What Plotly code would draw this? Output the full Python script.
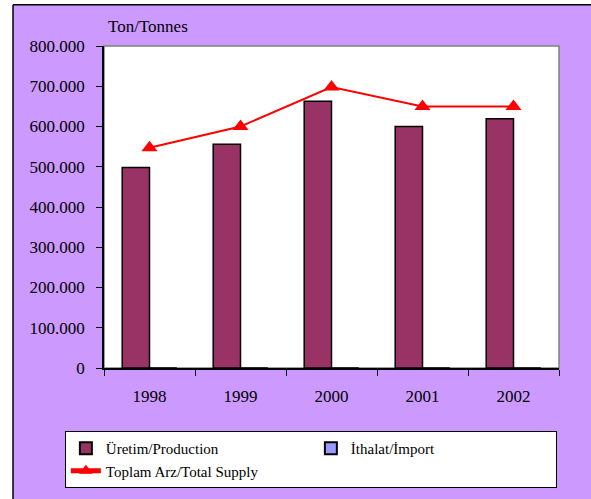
import plotly.graph_objects as go

years = ["1998", "1999", "2000", "2001", "2002"]
production = [498000, 556000, 663000, 600000, 619000]
imports = [0, 0, 0, 0, 0]
total_supply = [547000, 600000, 698000, 650000, 650000]

purple = "#CC99FF"
font = '"Liberation Serif", "Times New Roman", serif'

fig = go.Figure()

fig.add_trace(go.Bar(
    x=years, y=production, name="Üretim/Production",
    marker=dict(color="#993366", line=dict(color="black", width=1.5)),
))
fig.add_trace(go.Bar(
    x=years, y=imports, name="İthalat/İmport",
    marker=dict(color="#9999FF", line=dict(color="black", width=1.5)),
))
fig.add_trace(go.Scatter(
    x=years, y=total_supply, name="Toplam Arz/Total Supply",
    mode="lines+markers",
    line=dict(color="#FF0000", width=2),
    marker=dict(symbol="triangle-up", size=14, color="#FF0000"),
))

# plot area: x 104..559, y 46..369 px
fig.update_layout(
    width=591, height=499,
    margin=dict(l=104, r=32, t=46, b=130),
    paper_bgcolor=purple,
    plot_bgcolor="white",
    font=dict(family=font, size=17, color="black"),
    separators=",.",
    barmode="group",
    bargap=0.4,
    bargroupgap=0,
    showlegend=True,
    legend=dict(
        orientation="h",
        x=-0.086, y=-0.192, xanchor="left", yanchor="top",
        bgcolor="white", bordercolor="black", borderwidth=1,
        font=dict(family=font, size=15),
        entrywidth=200, tracegroupgap=0, itemsizing="constant",
    ),
    shapes=[
        # white strips outside the purple frame, plus the frame's edge lines
        dict(type="rect", xref="paper", yref="paper", layer="below",
             x0=-0.3, x1=-0.2, y0=-0.5, y1=1.2,
             fillcolor="white", line=dict(width=0)),
        dict(type="rect", xref="paper", yref="paper", layer="below",
             x0=-0.3, x1=1.2, y0=1.128, y1=1.2,
             fillcolor="white", line=dict(width=0)),
        dict(type="line", xref="paper", yref="paper", layer="below",
             x0=-0.2, x1=-0.2, y0=-0.5, y1=1.128,
             line=dict(color="black", width=1.5)),
        dict(type="line", xref="paper", yref="paper", layer="below",
             x0=-0.2, x1=1.2, y0=1.128, y1=1.128,
             line=dict(color="black", width=1.5)),
        dict(type="rect", xref="paper", yref="paper", layer="below",
             x0=0, x1=1, y0=0, y1=1,
             fillcolor="white", line=dict(color="#808080", width=1.5)),
    ],
    annotations=[
        dict(text="Ton/Tonnes", xref="paper", yref="paper",
             x=0.005, y=1.025, xanchor="left", yanchor="bottom",
             showarrow=False, font=dict(family=font, size=17)),
    ],
)

fig.update_xaxes(
    type="category", showline=True, linecolor="black", linewidth=1.5,
    ticks="outside", tickson="boundaries", ticklen=6, tickcolor="black",
    ticklabelstandoff=12, showgrid=False, zeroline=False,
    tickfont=dict(family=font, size=17, color="black"),
)
fig.update_yaxes(
    range=[0, 800000], dtick=100000, tickformat=",d",
    showline=True, linecolor="black", linewidth=1.5,
    ticks="outside", ticklen=6, tickcolor="black",
    ticklabelstandoff=8, showgrid=False, zeroline=False,
    tickfont=dict(family=font, size=17, color="black"),
)

# drop the default body margin so the 591x499 figure fills the window
fig.write_html(
    "out.html",
    config={"displayModeBar": False},
    post_script="document.body.style.margin='0';",
)
